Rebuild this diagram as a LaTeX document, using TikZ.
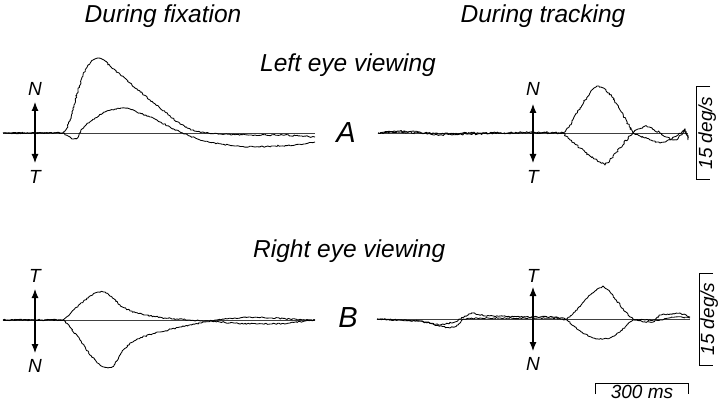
\documentclass[tikz,border=0pt]{standalone}
\usepackage{fontspec}
\setmainfont{Liberation Sans}
\usetikzlibrary{arrows.meta,decorations.pathmorphing}
\begin{document}
\begin{tikzpicture}[x=1pt,y=-1pt,
  trace/.style={line width=0.85pt, line join=round, decorate,
    decoration={random steps, segment length=1.5pt, amplitude=0.7pt}},
  noisytrace/.style={trace, decoration={random steps, segment length=1.5pt, amplitude=0.95pt}},
  zeroline/.style={line width=0.5pt, black!75},
  biarrow/.style={line width=1.1pt, {Latex[length=9pt,width=7pt]}-{Latex[length=9pt,width=7pt]}},
  lab/.style={font=\fontsize{19}{19}\selectfont\itshape, inner sep=0pt},
  ttl/.style={font=\fontsize{24.5}{24.5}\selectfont\itshape, inner sep=0pt, anchor=base},
  panel/.style={font=\fontsize{29}{29}\selectfont\itshape, inner sep=0pt},
  scalebar/.style={line width=0.8pt},
  scaletext/.style={font=\fontsize{19}{19}\selectfont\itshape, inner sep=0pt, anchor=base}]
\pgfmathsetseed{11}
\useasboundingbox (0,0) rectangle (720,401);

% titles
\node[ttl] (tfix) at (163,23) {During fixation};
\node[ttl] (ttrk) at (543,23) {During tracking};
\node[ttl, anchor=base west] (tleft) at (260,72) {Left eye viewing};
\node[ttl, anchor=base west] (tright) at (253,257) {Right eye viewing};
\node[panel] (pA) at (346,133) {A};
\node[panel] (pB) at (348,318) {B};

% ---------- top left ----------
\draw[zeroline] (3,133) -- (315,133);
\draw[trace] plot coordinates {(3,133) (30,133) (63,133) (65,131) (67,128) (70,120) (74,105) (78,90) (83,75) (88,65) (93,60) (96,58.5) (98,58) (101,58.5) (104,60) (110,66) (130,83) (150,100) (165,112) (180,124) (192,130) (205,133) (220,134) (250,135) (285,135) (315,137)};
\draw[trace] plot coordinates {(3,133) (30,133) (63,133) (68,136) (72,139) (76,139) (79,135) (82,129) (88,123) (95,118) (105,112) (115,109) (122,108) (130,109) (140,113) (150,117) (160,122) (170,127) (180,132) (190,136) (200,140) (215,143) (235,146) (255,147) (275,146) (295,145) (315,142)};
\coordinate (tlN) at (35,102); \coordinate (tlT) at (35,163);
\draw[biarrow] (tlN) -- (tlT);
\node[lab] (tlNl) at (35,89) {N};
\node[lab] (tlTl) at (35,177) {T};

% ---------- top right ----------
\draw[zeroline] (378,133) -- (688,133);
\draw[noisytrace] plot coordinates {(378,133) (400,131) (420,132) (440,135) (470,134) (500,133) (530,133) (563,133) (570,125) (580,108) (590,93) (594,88) (597,86) (601,87) (605,89) (612,97) (620,110) (628,124) (633,133) (638,129) (645,126) (652,128) (660,133) (670,139) (676,140) (681,135) (685,129) (688,138)};
\draw[noisytrace] plot coordinates {(378,133) (400,132) (420,133) (440,134) (470,133) (500,133) (530,132) (563,133) (570,140) (580,148) (590,156) (600,162) (605,165) (612,158) (620,148) (628,138) (633,133) (640,136) (650,140) (660,143) (670,140) (678,135) (685,129) (688,140)};
\coordinate (trN) at (533,104); \coordinate (trT) at (533,163);
\draw[biarrow] (trN) -- (trT);
\node[lab] (trNl) at (533,89) {N};
\node[lab] (trTl) at (533,177) {T};
\coordinate (sb1a) at (710,86); \coordinate (sb1b) at (696,86);
\coordinate (sb1c) at (696,179); \coordinate (sb1d) at (710,179);
\draw[scalebar] (sb1a) -- (sb1b) -- (sb1c) -- (sb1d);
\node[scaletext, rotate=90] (sb1t) at (712,133) {15 deg/s};

% ---------- bottom left ----------
\draw[zeroline] (3,320) -- (315,320);
\draw[trace] plot coordinates {(3,320) (30,320) (63,320) (70,314) (80,304) (90,296) (95,293) (98,292) (102,291.5) (105,292) (112,297) (120,305) (130,311) (145,315) (165,318) (190,320) (210,321) (230,323) (250,324) (270,324) (290,323) (305,321) (315,320)};
\draw[trace] plot coordinates {(3,320) (30,320) (63,320) (70,327) (80,340) (90,355) (100,365) (104,367) (108,368) (112,367) (115,364) (122,352) (130,343) (145,336) (160,332) (180,327) (200,323) (215,320) (235,318) (250,317) (270,318) (290,319) (315,320)};
\coordinate (blT) at (35,289); \coordinate (blN) at (35,353);
\draw[biarrow] (blT) -- (blN);
\node[lab] (blTl) at (35,276) {T};
\node[lab] (blNl) at (35,366) {N};

% ---------- bottom right ----------
\draw[zeroline] (377,319) -- (690,319);
\draw[trace] plot coordinates {(377,319) (400,320) (420,321) (440,325) (455,322) (465,316) (473,313) (485,316) (500,316) (520,317) (540,317) (555,317) (567,319) (575,312) (585,300) (595,291) (603,286) (610,292) (620,305) (628,315) (633,319) (643,322) (653,322) (660,315) (670,314) (680,313) (690,317)};
\draw[trace] plot coordinates {(377,319) (400,320) (420,321) (440,326) (450,328) (458,325) (463,319) (480,318) (500,318) (530,318) (555,318) (567,320) (575,327) (585,334) (593,338) (603,339) (610,338) (620,332) (628,324) (633,320) (645,320) (660,320) (675,317) (690,318)};
\coordinate (brT) at (533,287); \coordinate (brN) at (533,351);
\draw[biarrow] (brT) -- (brN);
\node[lab] (brTl) at (533,276) {T};
\node[lab] (brNl) at (533,364) {N};
\coordinate (sb2a) at (713,273); \coordinate (sb2b) at (699,273);
\coordinate (sb2c) at (699,365); \coordinate (sb2d) at (713,365);
\draw[scalebar] (sb2a) -- (sb2b) -- (sb2c) -- (sb2d);
\node[scaletext, rotate=90] (sb2t) at (714,319) {15 deg/s};

% time bar
\coordinate (tb1) at (595,394); \coordinate (tb2) at (595,383);
\coordinate (tb3) at (688,383); \coordinate (tb4) at (688,394);
\draw[scalebar] (tb1) -- (tb2) -- (tb3) -- (tb4);
\node[scaletext] (tbt) at (642,398) {300 ms};
\end{tikzpicture}
\end{document}
